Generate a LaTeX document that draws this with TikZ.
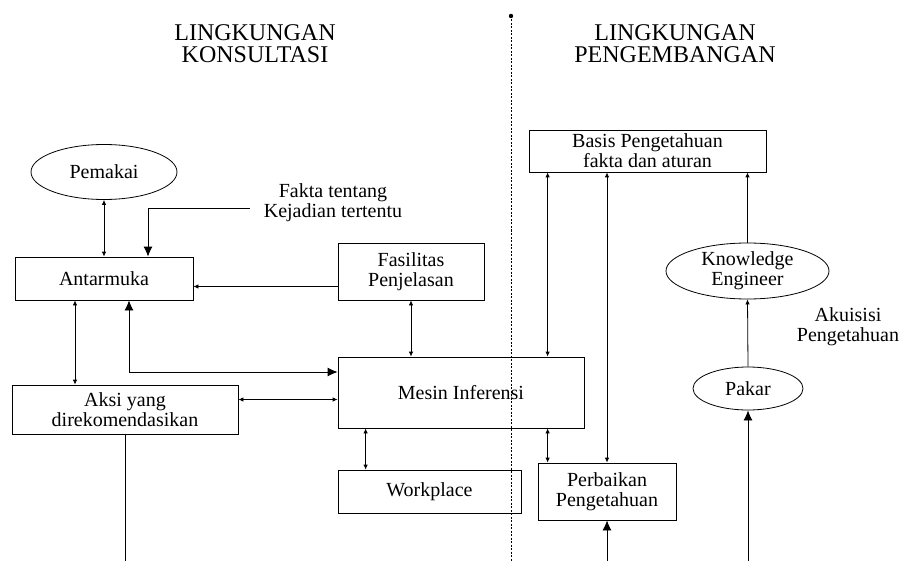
\documentclass[tikz,border=0pt]{standalone}
\usepackage{fontspec}
\setmainfont{Liberation Serif}
\usetikzlibrary{arrows.meta,shapes.geometric}

\begin{document}
\begin{tikzpicture}[x=1pt, y=-1pt,
    box/.style={draw, line width=0.8pt, align=center, inner sep=0pt, font=\fontsize{20}{20}\selectfont},
    oval/.style={draw, ellipse, line width=0.8pt, align=center, inner sep=0pt, font=\fontsize{20}{20}\selectfont},
    label/.style={align=center, inner sep=2pt, font=\fontsize{20}{20}\selectfont},
    title/.style={align=center, font=\fontsize{24}{22}\selectfont},
    dbl/.style={{Latex[length=5pt,width=4.5pt]}-{Latex[length=5pt,width=4.5pt]}, line width=0.8pt},
    sgl/.style={-{Latex[length=5pt,width=4.5pt]}, line width=0.8pt},
    big/.style={-{Latex[length=10pt,width=9pt]}, line width=0.8pt},
    bigdbl/.style={{Latex[length=10pt,width=9pt]}-{Latex[length=10pt,width=9pt]}, line width=0.8pt}]
    \useasboundingbox (0,0) rectangle (901,561);
    \coordinate (bottom) at (0,561);

    % Titles and divider
    \node[title] (konsultasi) at (255,44) {LINGKUNGAN\\KONSULTASI};
    \node[title] (pengembangan) at (675,44) {LINGKUNGAN\\PENGEMBANGAN};
    \coordinate (divtop) at (511,16);
    \fill (divtop) circle (2.2);
    \draw[dashed, dash pattern=on 2pt off 1.5pt, line width=0.6pt] (divtop) -- (divtop |- bottom);

    % Boxes
    \node[oval, minimum width=146, minimum height=55] (pemakai) at (104,172) {Pemakai};
    \node[box, minimum width=178, minimum height=43] (antarmuka) at (104,278.5) {Antarmuka};
    \node[box, minimum width=146, minimum height=57] (fasilitas) at (411,271.5) {Fasilitas\\Penjelasan};
    \node[box, minimum width=246, minimum height=71] (mesin) at (461,392.5) {Mesin Inferensi};
    \node[box, minimum width=226, minimum height=49] (aksi) at (125,409.5) {Aksi yang\\direkomendasikan};
    \node[box, minimum width=183, minimum height=43] (workplace) at (429.5,491.5) {Workplace};
    \node[box, minimum width=237, minimum height=42] (basis) at (647.5,151) {Basis Pengetahuan\\fakta dan aturan};
    \node[box, minimum width=138, minimum height=57] (perbaikan) at (607,491.5) {Perbaikan\\Pengetahuan};
    \node[oval, minimum width=163, minimum height=56] (ke) at (747.5,271) {Knowledge\\Engineer};
    \node[oval, minimum width=110, minimum height=43] (pakar) at (748,388.5) {Pakar};

    % Labels
    \node[label] (fakta) at (333,203) {Fakta tentang\\Kejadian tertentu};
    \node[label] (akuisisi) at (848,327) {Akuisisi\\Pengetahuan};

    % Arrows
    \draw[dbl] (pemakai.south) -- (antarmuka.north);
    \draw[big] ([xshift=-12,yshift=-5]fakta.west) -| ([xshift=44]antarmuka.north);
    \draw[sgl] ([yshift=-15]fasilitas.west) -- ([yshift=-15]fasilitas.west -| antarmuka.east);
    \draw[dbl] (fasilitas.south) -- (fasilitas.south |- mesin.north);
    \draw[bigdbl] ([xshift=25]antarmuka.south) |- ([yshift=20.5]mesin.west);
    \draw[dbl] ([xshift=-29]antarmuka.south) -- ([xshift=-29]antarmuka.south |- aksi.north);
    \draw[dbl] ([yshift=10]aksi.east) -- ([yshift=10]aksi.east -| mesin.west);
    \draw[line width=0.8pt] (aksi.south) -- (aksi.south |- bottom);
    \draw[dbl] ([xshift=28]mesin.south west) -- ([xshift=28]mesin.south west |- workplace.north);
    \draw[dbl] ([xshift=19]basis.south west) -- ([xshift=19]basis.south west |- mesin.north);
    \draw[dbl] (perbaikan.north |- basis.south) -- (perbaikan.north);
    \draw[dbl] ([xshift=10]perbaikan.north west |- mesin.south) -- ([xshift=10]perbaikan.north west);
    \draw[big] (perbaikan.south |- bottom) -- (perbaikan.south);
    \draw[sgl] (ke.north) -- (ke.north |- basis.south);
    \draw[sgl] (pakar.north) -- (ke.south);
    \draw[big] (pakar.south |- bottom) -- (pakar.south);
\end{tikzpicture}
\end{document}
